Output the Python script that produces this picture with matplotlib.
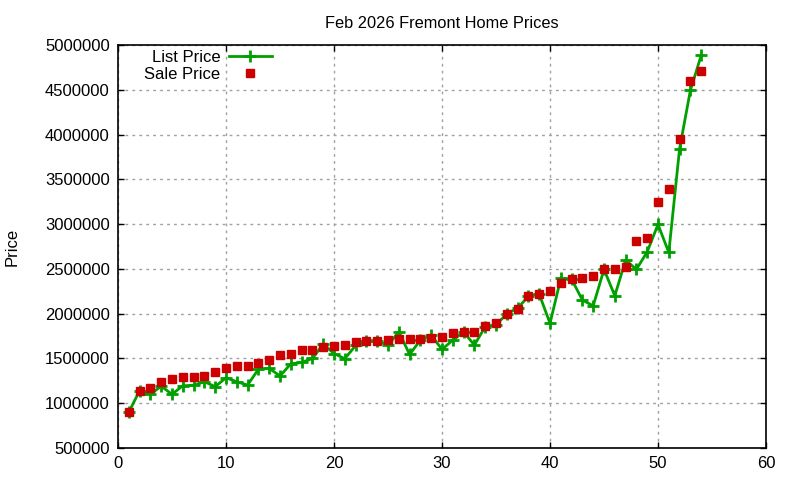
import matplotlib
matplotlib.use('Agg')
import matplotlib.pyplot as plt
from matplotlib.ticker import MultipleLocator

# home number along x, prices
homes = list(range(1, 55))
list_price = [900000, 1140000, 1100000, 1190000, 1100000, 1195000, 1200000, 1240000, 1185000, 1285000,
              1240000, 1203000, 1380000, 1390000, 1304000, 1440000, 1455000, 1500000, 1660000, 1555000,
              1497000, 1645000, 1698000, 1700000, 1645000, 1799000, 1545000, 1705000, 1761000, 1601000,
              1705000, 1795000, 1650000, 1854000, 1873000, 2000000, 2060000, 2195000, 2220000, 1892000,
              2394000, 2385000, 2152000, 2088000, 2495000, 2200000, 2598000, 2495000, 2691000, 2997000,
              2684000, 3845000, 4496000, 4886000]
sale_price = [900000, 1140000, 1173000, 1240000, 1273000, 1296000, 1298000, 1307000, 1345000, 1396000,
              1419000, 1420000, 1452000, 1486000, 1541000, 1545000, 1597000, 1598000, 1625000, 1642000,
              1653000, 1683000, 1698000, 1699000, 1709000, 1712000, 1720000, 1720000, 1724000, 1739000,
              1787000, 1799000, 1799000, 1865000, 1899000, 1999000, 2055000, 2200000, 2222000, 2256000,
              2345000, 2390000, 2401000, 2423000, 2501000, 2501000, 2523000, 2814000, 2847000, 3246000,
              3394000, 3952000, 4599000, 4710000]

plt.rcParams['font.family'] = ['Liberation Sans', 'DejaVu Sans']
plt.rcParams['font.size'] = 12

fig = plt.figure(figsize=(8, 4.8), dpi=100)
ax = fig.add_axes([0.1475, 0.0667, 0.81, 0.8393])

ax.plot(homes, list_price, '-', color='#00a000', lw=2, marker='+', ms=9, mew=2, label='List Price')
ax.plot(homes, sale_price, 's', color='#cc0000', ms=5.8, mec='#cc0000', ls='none', label='Sale Price')

ax.set_xlim(0, 60)
ax.set_ylim(500000, 5000000)
ax.xaxis.set_major_locator(MultipleLocator(10))
ax.yaxis.set_major_locator(MultipleLocator(500000))
ax.ticklabel_format(style='plain', axis='y')
ax.tick_params(direction='in', top=True, right=True, length=4.5, width=1, colors='black', pad=6)
ax.grid(True, color='#a0a0a0', ls=(0, (2, 3)), lw=1)
for s in ax.spines.values():
    s.set_linewidth(1.2)

ax.set_title('Feb 2026 Fremont Home Prices', fontsize=11.8, pad=12)
ax.set_ylabel('Price')
ax.yaxis.label.set_va('center')
ax.yaxis.set_label_coords(-0.164, 0.5)

ax.legend(loc='upper left', bbox_to_anchor=(0.025, 1.012), frameon=False, markerfirst=False,
          handlelength=2.6, handletextpad=0.5, labelspacing=0.08, borderaxespad=0.2)

fig.savefig('out.png', dpi=100)
